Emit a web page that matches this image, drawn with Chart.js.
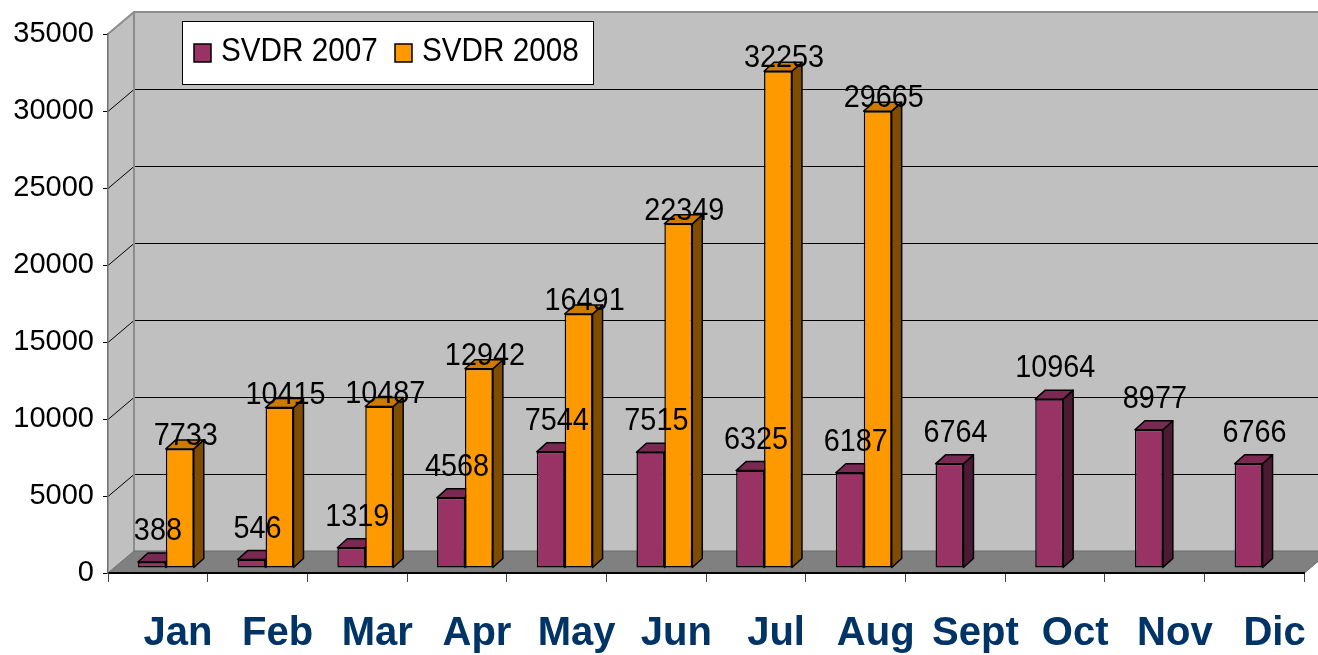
<!DOCTYPE html>
<html>
<head>
<meta charset="utf-8">
<script src="https://cdn.jsdelivr.net/npm/chart.js@4.4.1/dist/chart.umd.min.js"></script>
<style>
  html, body { margin: 0; padding: 0; background: #fff; }
</style>
</head>
<body>
<canvas id="svdr" width="1318" height="655"></canvas>
<script>
var months = ["Jan", "Feb", "Mar", "Apr", "May", "Jun", "Jul", "Aug", "Sept", "Oct", "Nov", "Dic"];
var svdr2007 = [388, 546, 1319, 4568, 7544, 7515, 6325, 6187, 6764, 10964, 8977, 6766];
var svdr2008 = [7733, 10415, 10487, 12942, 16491, 22349, 32253, 29665, null, null, null, null];
var yMax = 35000;
var yStep = 5000;

var FONT = '"Liberation Sans", Arial, sans-serif';
var WALL = { dx: 26, dy: -22 };  // how far back the back wall sits
var PLANE = { dx: 8, dy: -5 };   // bars stand a little behind the front edge
var DEPTH = { dx: 10, dy: -9 };  // thickness of a bar

// squeezed text, the original fonts look a bit condensed
function narrowText(ctx, txt, x, y, size, align) {
  ctx.save();
  ctx.translate(x, y);
  ctx.scale(0.9, 1);
  ctx.font = size + "px " + FONT;
  ctx.textAlign = align;
  ctx.textBaseline = "alphabetic";
  ctx.fillStyle = "#000";
  ctx.fillText(txt, 0, 0);
  ctx.restore();
}

function poly(ctx, pts, fill) {
  ctx.beginPath();
  ctx.moveTo(pts[0][0], pts[0][1]);
  for (var i = 1; i < pts.length; i++) ctx.lineTo(pts[i][0], pts[i][1]);
  ctx.closePath();
  ctx.fillStyle = fill;
  ctx.fill();
  ctx.stroke();
}

var box3d = {
  id: "box3d",
  beforeDraw: function (chart) {
    var ctx = chart.ctx, a = chart.chartArea, ys = chart.scales.y, W = chart.width;
    var bx = a.left + WALL.dx;
    ctx.save();
    ctx.fillStyle = "#c0c0c0";
    ctx.beginPath();
    ctx.moveTo(a.left, a.top);
    ctx.lineTo(bx, a.top + WALL.dy);
    ctx.lineTo(bx, a.bottom + WALL.dy);
    ctx.lineTo(a.left, a.bottom);
    ctx.closePath();
    ctx.fill();
    ctx.fillRect(bx, a.top + WALL.dy, W - bx, a.bottom - a.top);

    // grid lines on side and back wall
    ctx.strokeStyle = "#000";
    ctx.lineWidth = 1;
    ys.ticks.forEach(function (t) {
      if (t.value === 0 || t.value === yMax) return;
      var py = Math.round(ys.getPixelForValue(t.value)) + 0.5;
      ctx.beginPath();
      ctx.moveTo(a.left, py);
      ctx.lineTo(bx, py + WALL.dy);
      ctx.lineTo(W, py + WALL.dy);
      ctx.stroke();
    });

    ctx.strokeStyle = "#8c8c8c";
    ctx.lineWidth = 2;
    ctx.beginPath();
    ctx.moveTo(a.left, a.top);
    ctx.lineTo(bx, a.top + WALL.dy);
    ctx.lineTo(W, a.top + WALL.dy);
    ctx.moveTo(bx, a.top + WALL.dy);
    ctx.lineTo(bx, a.bottom + WALL.dy);
    ctx.stroke();

    // floor
    ctx.strokeStyle = "#6a6a6a";
    ctx.lineWidth = 1;
    poly(ctx, [[a.left, a.bottom], [bx, a.bottom + WALL.dy],
               [a.right + WALL.dx, a.bottom + WALL.dy], [a.right, a.bottom]], "#808080");
    ctx.restore();
  },
  beforeDatasetsDraw: function (chart) {
    var ctx = chart.ctx;
    ctx.save();
    ctx.translate(PLANE.dx, PLANE.dy);
    ctx.strokeStyle = "#000";
    ctx.lineWidth = 1.5;
    ctx.lineJoin = "round";
    chart.data.datasets.forEach(function (ds, d) {
      chart.getDatasetMeta(d).data.forEach(function (bar, i) {
        if (ds.data[i] == null) return;
        var p = bar.getProps(["x", "y", "base", "width"], true);
        var x0 = p.x - p.width / 2, x1 = p.x + p.width / 2;
        poly(ctx, [[x1, p.y], [x1 + DEPTH.dx, p.y + DEPTH.dy],
                   [x1 + DEPTH.dx, p.base + DEPTH.dy], [x1, p.base]], ds.sideColor);
        poly(ctx, [[x0, p.y], [x0 + DEPTH.dx, p.y + DEPTH.dy],
                   [x1 + DEPTH.dx, p.y + DEPTH.dy], [x1, p.y]], ds.topColor);
      });
    });
    // translation stays on while Chart.js draws the bar fronts
  },
  afterDatasetsDraw: function (chart) {
    var ctx = chart.ctx;
    ctx.restore();
    chart.data.datasets.forEach(function (ds, d) {
      chart.getDatasetMeta(d).data.forEach(function (bar, i) {
        var v = ds.data[i];
        if (v == null) return;
        var p = bar.getProps(["x", "y"], true);
        narrowText(ctx, String(v), p.x + PLANE.dx + 6, p.y + PLANE.dy - ds.labelLift, 32, "center");
      });
    });
  },
  afterDraw: function (chart) {
    var ctx = chart.ctx;
    ctx.save();
    ctx.fillStyle = "#fff";
    ctx.strokeStyle = "#000";
    ctx.lineWidth = 1;
    ctx.fillRect(182.5, 21.5, 411, 63);
    ctx.strokeRect(182.5, 21.5, 411, 63);
    var xs = [194, 395];
    chart.data.datasets.forEach(function (ds, d) {
      ctx.fillStyle = ds.backgroundColor;
      ctx.lineWidth = 1.5;
      ctx.fillRect(xs[d], 44, 17, 18);
      ctx.strokeRect(xs[d], 44, 17, 18);
      narrowText(ctx, ds.label, xs[d] + 27, 61, 33, "left");
    });
    ctx.restore();
  }
};

new Chart(document.getElementById("svdr"), {
  type: "bar",
  data: {
    labels: months,
    datasets: [
      {
        label: "SVDR 2007",
        data: svdr2007,
        backgroundColor: "#993366",
        sideColor: "#4d1a33",
        topColor: "#7a2952",
        labelLift: 22,
        borderColor: "#000",
        borderWidth: 1.5,
        borderSkipped: false,
        categoryPercentage: 0.56,
        barPercentage: 1,
        clip: false
      },
      {
        label: "SVDR 2008",
        data: svdr2008,
        backgroundColor: "#ff9900",
        sideColor: "#7f4c00",
        topColor: "#cc7a00",
        labelLift: 4,
        borderColor: "#000",
        borderWidth: 1.5,
        borderSkipped: false,
        categoryPercentage: 0.56,
        barPercentage: 1,
        clip: false
      }
    ]
  },
  options: {
    responsive: false,
    devicePixelRatio: 1,
    animation: false,
    layout: { padding: { top: 34, right: 8, left: 0, bottom: 0 } },
    plugins: {
      legend: { display: false },
      tooltip: { enabled: false }
    },
    scales: {
      x: {
        grid: { drawOnChartArea: false, tickLength: 9, color: "#404040", offset: true },
        border: { color: "#000", width: 2 },
        ticks: {
          color: "#003366",
          font: { family: FONT, size: 40, weight: "bold", lineHeight: 1 },
          padding: 32,
          labelOffset: 20,
          maxRotation: 0,
          autoSkip: false
        },
        afterFit: function (s) { s.height = 82; }
      },
      y: {
        min: 0,
        max: yMax,
        ticks: {
          stepSize: yStep,
          color: "#000",
          font: { family: FONT, size: 29 },
          padding: 9,
          callback: function (v) { return String(v); }
        },
        grid: { drawOnChartArea: false, tickLength: 5, color: "#000" },
        border: { color: "#707070", width: 1.5 },
        afterFit: function (s) { s.width = 108; }
      }
    }
  },
  plugins: [box3d]
});
</script>
</body>
</html>
